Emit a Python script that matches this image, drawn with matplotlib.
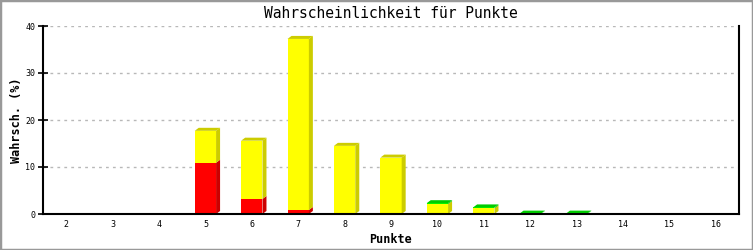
import matplotlib
matplotlib.use("Agg")
import matplotlib.pyplot as plt
from matplotlib.patches import Polygon, Rectangle

# ---- data ----
punkte = [2, 3, 4, 5, 6, 7, 8, 9, 10, 11, 12, 13, 14, 15, 16]
rot    = [0, 0, 0, 10.9, 3.2, 0.85, 0, 0, 0, 0, 0, 0, 0, 0, 0]
gelb   = [0, 0, 0, 6.8, 12.4, 36.4, 14.5, 12.0, 2.1, 1.2, 0, 0, 0, 0, 0]
gruen  = [0, 0, 0, 0, 0, 0, 0, 0, 0.2, 0.2, 0.08, 0.08, 0, 0, 0]
y_ticks = [0, 10, 20, 30, 40]

series = [
    (rot,   "#ff0000", "#cc0000"),
    (gelb,  "#ffff00", "#cccc00"),
    (gruen, "#00ff00", "#00cc00"),
]

mono = "DejaVu Sans Mono"

fig = plt.figure(figsize=(7.53, 2.50), dpi=100)
ax = fig.add_axes([43/753, 36/250, (739-43)/753, (214-26)/250])

xs = list(range(len(punkte)))
w = 0.46
# 3D offset: ~4 px right, ~3 px up
dx = 4 / (696 / 15)
dy = 3 / (188 / 40)

bottoms = [0.0] * len(xs)
tops = [None] * len(xs)
for vals, c, dc in series:
    for i, v in enumerate(vals):
        if v <= 0:
            continue
        b = bottoms[i]
        ax.bar(xs[i], v, bottom=b, width=w, color=c, edgecolor="none", zorder=3)
        xr = xs[i] + w / 2
        ax.add_patch(Polygon([(xr, b), (xr + dx, b + dy), (xr + dx, b + v + dy), (xr, b + v)],
                             closed=True, facecolor=dc, edgecolor="none", zorder=3))
        bottoms[i] = b + v
        tops[i] = dc
for i, dc in enumerate(tops):
    if dc is None:
        continue
    t = bottoms[i]
    xl = xs[i] - w / 2
    xr = xs[i] + w / 2
    ax.add_patch(Polygon([(xl, t), (xl + dx, t + dy), (xr + dx, t + dy), (xr, t)],
                         closed=True, facecolor=dc, edgecolor="none", zorder=3))

ax.set_xlim(-0.5, len(xs) - 0.5)
ax.set_ylim(0, 40)
ax.set_xticks(xs)
ax.set_xticklabels([str(p) for p in punkte], fontfamily=mono, fontsize=6)
ax.set_yticks(y_ticks)
ax.set_yticklabels([str(t) for t in y_ticks], fontfamily=mono, fontsize=6)
ax.tick_params(axis="x", length=0, pad=4)
ax.tick_params(axis="y", direction="inout", length=7, width=1.2, pad=2)

ax.yaxis.grid(True, linestyle=(0, (2, 3)), color="#b8b8b8", linewidth=1, zorder=0)
ax.set_axisbelow(True)
ax.spines["top"].set_visible(False)
for s in ("left", "right", "bottom"):
    ax.spines[s].set_linewidth(1.5)
    ax.spines[s].set_zorder(4)

ax.set_title("Wahrscheinlichkeit für Punkte", fontfamily=mono, fontsize=10.5, pad=6)
ax.set_xlabel("Punkte", fontfamily=mono, fontsize=8.5, fontweight="bold", labelpad=3)
ax.set_ylabel("Wahrsch. (%)", fontfamily=mono, fontsize=8.5, fontweight="bold", labelpad=2)

fig.add_artist(Rectangle((0, 0), 1, 1, transform=fig.transFigure, fill=False,
                         edgecolor="#999999", linewidth=2.5))

fig.savefig("out.png", dpi=100)
